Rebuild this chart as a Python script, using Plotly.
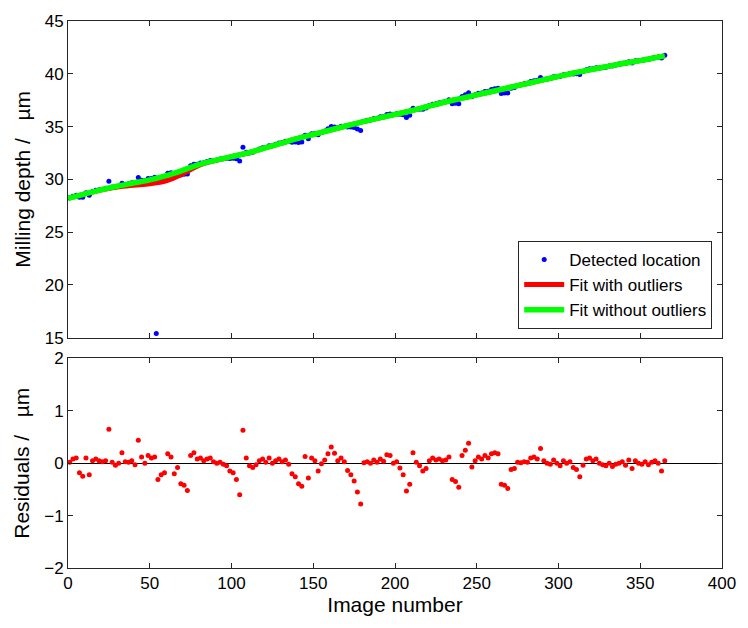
import plotly.graph_objects as go

# Image numbers of detected locations (every second image)
image_number = list(range(1, 366, 2))

# Detected milling depth (µm)
detected_depth = [
    28.26, 28.40, 28.50, 28.30, 28.31, 28.74, 28.50, 28.85, 28.96, 29.01,
    29.07, 29.16, 29.83, 29.27, 29.28, 29.38, 29.64, 29.53, 29.58, 29.67,
    29.65, 30.18, 29.92, 29.86, 30.07, 30.09, 30.19, 29.84, 30.01, 30.13,
    30.58, 30.62, 30.40, 30.62, 30.41, 30.49, 30.50, 31.28, 31.44, 31.43,
    31.54, 31.57, 31.68, 31.78, 31.79, 31.84, 31.93, 31.96, 32.00, 31.97,
    32.01, 31.95, 31.73, 33.03, 32.57, 32.50, 32.56, 32.70, 32.87, 32.99,
    33.02, 33.19, 33.18, 33.32, 33.44, 33.48, 33.60, 33.61, 33.52, 33.55,
    33.50, 33.53, 34.18, 33.85, 34.31, 34.34, 34.22, 34.44, 34.59, 34.79,
    35.00, 34.96, 34.90, 35.03, 35.04, 34.95, 34.95, 34.91, 34.78, 34.63,
    35.50, 35.59, 35.63, 35.76, 35.79, 35.92, 35.95, 36.14, 36.20, 36.12,
    36.22, 36.17, 36.11, 35.87, 36.07, 36.74, 36.64, 36.65, 36.63, 36.76,
    36.99, 37.12, 37.16, 37.26, 37.31, 37.40, 37.53, 37.17, 37.20, 37.16,
    37.84, 38.01, 38.21, 37.83, 38.02, 38.16, 38.19, 38.33, 38.35, 38.50,
    38.59, 38.64, 38.13, 38.18, 38.19, 38.62, 38.71, 38.90, 38.96, 39.05,
    39.11, 39.26, 39.35, 39.38, 39.65, 39.49, 39.51, 39.56, 39.71, 39.72,
    39.74, 39.91, 39.93, 40.03, 39.99, 40.01, 39.93, 40.21, 40.39, 40.47,
    40.48, 40.57, 40.55, 40.58, 40.62, 40.73, 40.73, 40.83, 40.91, 41.00,
    40.99, 41.14, 41.03, 41.23, 41.23, 41.26, 41.37, 41.37, 41.48, 41.57,
    41.58, 41.49, 41.75,
]

# Single far outlier detection
outlier_image = [54]
outlier_depth = [15.4]

# Residuals (µm) of the fit without outliers, lower panel
residuals = [
    0.02, 0.08, 0.10, -0.18, -0.25, 0.10, -0.22, 0.05, 0.08, 0.05,
    0.03, 0.05, 0.65, 0.02, -0.04, 0.00, 0.20, 0.03, 0.02, 0.05,
    -0.03, 0.44, 0.12, 0.00, 0.15, 0.10, 0.12, -0.31, -0.22, -0.18,
    0.18, 0.12, -0.20, -0.08, -0.39, -0.42, -0.52, 0.15, 0.20, 0.08,
    0.10, 0.05, 0.08, 0.10, 0.03, 0.00, 0.02, -0.02, -0.05, -0.15,
    -0.18, -0.31, -0.60, 0.63, 0.10, -0.05, -0.08, -0.03, 0.05, 0.08,
    0.02, 0.10, 0.00, 0.05, 0.08, 0.03, 0.06, -0.02, -0.20, -0.26,
    -0.39, -0.44, 0.13, -0.28, 0.10, 0.05, -0.15, -0.01, 0.06, 0.18,
    0.31, 0.19, 0.05, 0.10, 0.03, -0.14, -0.22, -0.34, -0.55, -0.78,
    0.01, 0.03, 0.00, 0.06, 0.02, 0.08, 0.04, 0.16, 0.15, 0.00,
    0.03, -0.09, -0.22, -0.53, -0.40, 0.20, 0.02, -0.05, -0.15, -0.10,
    0.05, 0.10, 0.06, 0.08, 0.05, 0.06, 0.12, -0.31, -0.35, -0.46,
    0.15, 0.25, 0.38, -0.07, 0.05, 0.12, 0.08, 0.15, 0.10, 0.18,
    0.20, 0.18, -0.40, -0.42, -0.48, -0.12, -0.10, 0.02, 0.01, 0.03,
    0.02, 0.10, 0.12, 0.08, 0.28, 0.05, 0.00, -0.02, 0.06, 0.00,
    -0.05, 0.05, 0.00, 0.03, -0.08, -0.12, -0.26, -0.04, 0.08, 0.10,
    0.05, 0.08, 0.00, -0.03, -0.05, 0.00, -0.06, -0.02, 0.00, 0.03,
    -0.04, 0.06, -0.10, 0.05, 0.00, -0.02, 0.03, -0.03, 0.02, 0.05,
    0.00, -0.15, 0.05,
]

# Fit curves sampled along the image axis
fit_image = [0, 10, 20, 30, 40, 50, 60, 70, 80, 90, 100, 110, 120, 130, 140,
             150, 160, 170, 180, 190, 200, 210, 220, 230, 240, 250, 260, 270,
             280, 290, 300, 310, 320, 330, 340, 350, 360, 365]
fit_without_outliers = [28.20, 28.60, 29.00, 29.35, 29.65, 29.95, 30.35, 30.85,
                        31.40, 31.80, 32.15, 32.50, 32.95, 33.40, 33.85, 34.25,
                        34.65, 35.05, 35.45, 35.80, 36.15, 36.50, 36.90, 37.30,
                        37.65, 38.00, 38.35, 38.70, 39.05, 39.40, 39.75, 40.10,
                        40.40, 40.70, 41.00, 41.25, 41.55, 41.70]
fit_with_outliers = [28.20, 28.60, 28.98, 29.28, 29.45, 29.58, 29.85, 30.50,
                     31.32, 31.78, 32.15, 32.50, 32.95, 33.40, 33.85, 34.25,
                     34.65, 35.05, 35.45, 35.80, 36.15, 36.50, 36.90, 37.30,
                     37.65, 38.00, 38.35, 38.70, 39.05, 39.40, 39.75, 40.10,
                     40.40, 40.70, 41.00, 41.25, 41.55, 41.70]

x_ticks = [0, 50, 100, 150, 200, 250, 300, 350, 400]
depth_ticks = [15, 20, 25, 30, 35, 40, 45]
resid_ticks = [-2, -1, 0, 1, 2]

FONT = "Liberation Sans, Arial, sans-serif"
AX = "#262626"

fig = go.Figure()
fig.add_trace(go.Scatter(
    x=image_number + outlier_image, y=detected_depth + outlier_depth,
    mode="markers", name="Detected location",
    marker=dict(color="#0000ff", size=5), xaxis="x", yaxis="y"))
fig.add_trace(go.Scatter(
    x=fit_image, y=fit_with_outliers, mode="lines", name="Fit with outliers",
    line=dict(color="#ff0000", width=5, shape="spline"), xaxis="x", yaxis="y"))
fig.add_trace(go.Scatter(
    x=fit_image, y=fit_without_outliers, mode="lines", name="Fit without outliers",
    line=dict(color="#00ff00", width=5.5, shape="spline"), xaxis="x", yaxis="y"))
fig.add_trace(go.Scatter(
    x=image_number, y=residuals, mode="markers", showlegend=False,
    marker=dict(color="#ff0000", size=5), xaxis="x2", yaxis="y2"))

common_axis = dict(showline=True, linecolor=AX, linewidth=1, mirror="ticks",
                   ticks="inside", ticklen=5, tickcolor=AX, showgrid=False,
                   zeroline=False, tickfont=dict(family=FONT, size=17, color="black"))

fig.update_layout(
    width=748, height=628,
    margin=dict(l=68, r=20, t=17, b=60),
    paper_bgcolor="white", plot_bgcolor="white",
    font=dict(family=FONT, color="black"),
    xaxis=dict(domain=[0, 1], range=[0, 400], tickvals=x_ticks, showticklabels=False,
               anchor="y", **common_axis),
    yaxis=dict(domain=[0.421, 1], range=[15, 45], tickvals=depth_ticks, anchor="x",
               title=dict(text="Milling depth /   µm", standoff=8,
                          font=dict(family=FONT, size=21, color="black")),
               **common_axis),
    xaxis2=dict(domain=[0, 1], range=[0, 400], tickvals=x_ticks, anchor="y2",
                title=dict(text="Image number", standoff=4,
                           font=dict(family=FONT, size=21, color="black")),
                **common_axis),
    yaxis2=dict(domain=[0, 0.383], range=[-2, 2], tickvals=resid_ticks, anchor="x2",
                title=dict(text="Residuals /   µm", standoff=8,
                           font=dict(family=FONT, size=21, color="black")),
                **common_axis),
    legend=dict(x=0.985, y=0.437, xanchor="right", yanchor="bottom",
                bgcolor="white", bordercolor=AX, borderwidth=1,
                font=dict(family=FONT, size=17, color="black"),
                tracegroupgap=0, itemwidth=40),
    showlegend=True,
)
fig.layout.yaxis2.zeroline = True
fig.layout.yaxis2.zerolinecolor = "black"
fig.layout.yaxis2.zerolinewidth = 1

fig.write_html("out.html")
